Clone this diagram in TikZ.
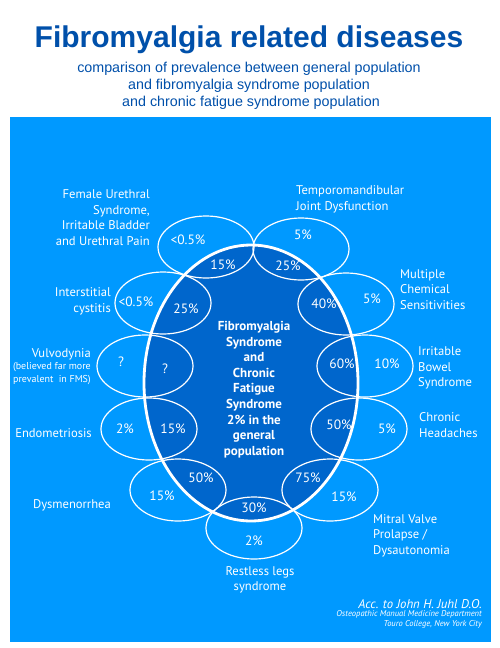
\documentclass[tikz,border=0pt]{standalone}
\usepackage{fontspec}
\setmainfont{Liberation Sans}
\newfontfamily\myr{PT Sans}
\usetikzlibrary{shapes.geometric}
\definecolor{bgblue}{RGB}{0,153,255}
\definecolor{coreblue}{RGB}{0,102,204}
\definecolor{titleblue}{RGB}{0,80,170}
\begin{document}
\begin{tikzpicture}[x=1pt,y=-1pt,
  sat/.style={ellipse, draw=white, line width=1.2pt, minimum width=96pt, minimum height=62pt, inner sep=0pt},
  pct/.style={text=white, font=\myr\fontsize{13.5}{15}\selectfont, inner sep=0pt},
  lbl/.style={text=white, font=\myr\fontsize{12.6}{15.6}\selectfont, inner sep=0pt},
  lblr/.style={lbl, anchor=east, align=right},
  lbll/.style={lbl, anchor=west, align=left},
  small/.style={text=white, font=\myr\fontsize{10}{13}\selectfont, inner sep=0pt, anchor=east, align=right}]
\useasboundingbox (0,0) rectangle (500,648);
\fill[white] (0,0) rectangle (500,648);
\node[text=titleblue, font=\bfseries\fontsize{30}{36}\selectfont, inner sep=0pt] (title) at (249,40) {Fibromyalgia related diseases};
\node[text=titleblue, font=\fontsize{14.3}{17}\selectfont, inner sep=0pt, align=center] (sub) at (249,86) {comparison of prevalence between general population\\and fibromyalgia syndrome population\\\ and chronic fatigue syndrome population};
\fill[bgblue] (10,117) rectangle (491,642);
\node[ellipse, fill=coreblue, draw=white, line width=2.8pt, minimum width=214pt, minimum height=276pt, inner sep=0pt] (core) at (251,383) {};
% satellites
\node[sat] (fus) at (206,247) {};
\node[sat] (tmj) at (301,249) {};
\node[sat] (ic) at (163,303) {};
\node[sat] (mcs) at (346,304) {};
\node[sat] (vul) at (145,366) {};
\node[sat] (ibs) at (365,366) {};
\node[sat] (endo) at (149,429) {};
\node[sat] (ch) at (359,429) {};
\node[sat] (dys) at (178,490) {};
\node[sat] (mvp) at (330,490) {};
\node[sat] (rls) at (254,528) {};
% percentages
\node[pct] (p1a) at (188,240) {<0.5\%};
\node[pct] (p1b) at (223,265) {15\%};
\node[pct] (p2a) at (303,235) {5\%};
\node[pct] (p2b) at (288,266) {25\%};
\node[pct] (p3a) at (136,302) {<0.5\%};
\node[pct] (p3b) at (186,309) {25\%};
\node[pct] (p4a) at (324,304) {40\%};
\node[pct] (p4b) at (372,299) {5\%};
\node[pct] (p5a) at (121,362) {?};
\node[pct] (p5b) at (165,369) {?};
\node[pct] (p6a) at (342,364) {60\%};
\node[pct] (p6b) at (387,364) {10\%};
\node[pct] (p7a) at (125,429) {2\%};
\node[pct] (p7b) at (173,429) {15\%};
\node[pct] (p8a) at (339,425) {50\%};
\node[pct] (p8b) at (387,429) {5\%};
\node[pct] (p9a) at (201,478) {50\%};
\node[pct] (p9b) at (162,496) {15\%};
\node[pct] (p10a) at (308,478) {75\%};
\node[pct] (p10b) at (344,497) {15\%};
\node[pct] (p11a) at (254,508) {30\%};
\node[pct] (p11b) at (254,541) {2\%};
% central text
\node[text=white, font=\myr\bfseries\fontsize{13}{15.6}\selectfont, align=center, inner sep=0pt] (coretext) at (254,389.5) {Fibromyalgia\\Syndrome\\and\\Chronic\\Fatigue\\Syndrome\\2\% in the\\general\\population};
% labels
\node[lblr] (lfus) at (150,217.5) {Female Urethral\\Syndrome,\\Irritable Bladder\\and Urethral Pain};
\node[lbll] (ltmj) at (296,199.5) {Temporomandibular\\Joint Dysfunction};
\node[lblr] (lic) at (111,301.5) {Interstitial\\cystitis};
\node[lbll] (lmcs) at (400,289.5) {Multiple\\Chemical\\Sensitivities};
\node[lblr] (lvul) at (91,354) {Vulvodynia};
\node[small] (lvul2) at (91,373.5) {(believed far more\\prevalent\ \ in FMS)};
\node[lbll] (libs) at (418,368) {Irritable\\Bowel\\Syndrome};
\node[lblr] (lendo) at (92,433) {Endometriosis};
\node[lbll] (lch) at (419,425) {Chronic\\Headaches};
\node[lbll] (ldys) at (33,505) {Dysmenorrhea};
\node[lbll] (lmvp) at (373,535.5) {Mitral Valve\\Prolapse /\\Dysautonomia};
\node[lbl, align=center] (lrls) at (260,580) {Restless legs\\syndrome};
% credit
\node[text=white, font=\myr\itshape\fontsize{12.7}{15}\selectfont, inner sep=0pt, anchor=east] (acc) at (482,604) {Acc. to John H. Juhl D.O.};
\node[text=white, font=\myr\itshape\fontsize{8.5}{9.5}\selectfont, inner sep=0pt, anchor=east, align=right] (dept) at (482,619.5) {Osteopathic Manual Medicine Department\\Touro College, New York City};
\end{tikzpicture}
\end{document}
